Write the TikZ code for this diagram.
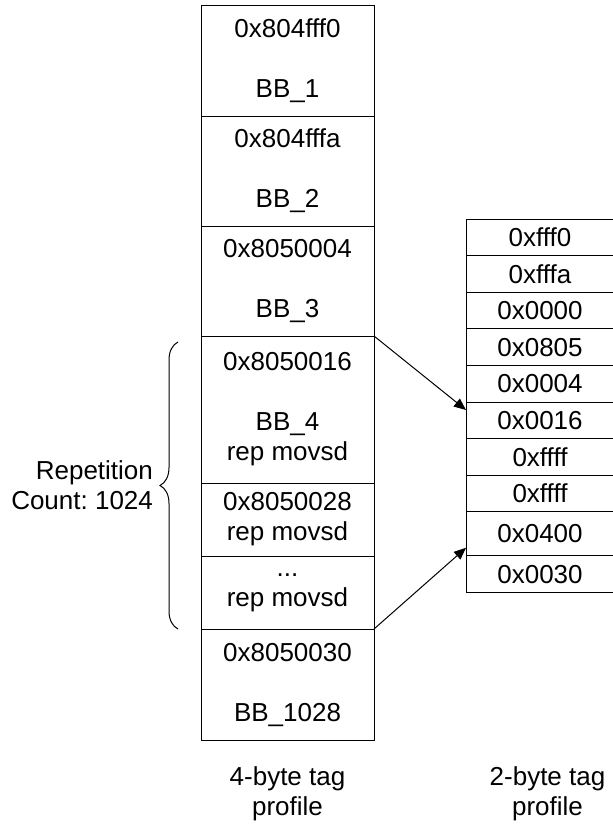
\documentclass[tikz,border=0pt]{standalone}
\usepackage{fontspec}
\setmainfont{Liberation Sans}
\usetikzlibrary{arrows.meta,positioning,decorations.pathreplacing}
\frenchspacing

\begin{document}
\begin{tikzpicture}[
        node distance=0pt,
        every node/.style={font=\fontsize{13}{15}\selectfont, align=center},
        blk/.style={rectangle, draw, line width=0.5pt, outer sep=0pt, minimum width=86.5pt},
        tag/.style={rectangle, draw, line width=0.5pt, outer sep=0pt, minimum width=74pt, minimum height=18.3pt, inner sep=0pt},
        arr/.style={-{Triangle[length=6pt, width=5pt]}, line width=0.5pt},
        brc/.style={decorate, decoration={brace, amplitude=9pt}, line width=0.5pt}
    ]
    \useasboundingbox (0,0) rectangle (306.5pt,-412.5pt);

    % 4-byte tag profile
    \node (b1) [blk, minimum height=55.5pt, anchor=north] at (143.75pt,-2.5pt) {0x804fff0\\[15pt]BB\_1};
    \node (b2) [blk, minimum height=55pt, below=of b1] {0x804fffa\\[15pt]BB\_2};
    \node (b3) [blk, minimum height=55pt, below=of b2] {0x8050004\\[15pt]BB\_3};
    \node (b4) [blk, minimum height=73.5pt, below=of b3] {0x8050016\\[15pt]BB\_4\\rep movsd};
    \node (b5) [blk, minimum height=36.5pt, below=of b4] {0x8050028\\rep movsd};
    \node (b6) [blk, minimum height=36.5pt, below=of b5] {...\\rep movsd};
    \node (b7) [blk, minimum height=55.5pt, below=of b6] {0x8050030\\[15pt]BB\_1028};

    % 2-byte tag profile
    \node (r1) [tag, anchor=north west] at (233pt,-109.5pt) {0xfff0};
    \node (r2) [tag, below=of r1] {0xfffa};
    \node (r3) [tag, below=of r2] {0x0000};
    \node (r4) [tag, below=of r3] {0x0805};
    \node (r5) [tag, below=of r4] {0x0004};
    \node (r6) [tag, below=of r5] {0x0016};
    \node (r7) [tag, below=of r6] {0xffff};
    \node (r8) [tag, below=of r7] {0xffff};
    \node (r9) [tag, minimum height=22pt, below=of r8] {0x0400};
    \node (r10) [tag, below=of r9] {0x0030};

    % Arrows
    \draw[arr] (b4.north east) -- ([yshift=-4pt]r6.north west);
    \draw[arr] (b6.south east) -- ([yshift=4pt]r9.south west);

    % Repetition brace
    \draw[brc] ([xshift=-11.5pt]b6.south west) -- ([xshift=-11.5pt,yshift=-3pt]b4.north west)
        coordinate[midway, xshift=-9pt] (tip);
    \node (rep) [left=0pt of tip, align=right] {Repetition\\Count: 1024};

    % Captions
    \node (l4) [below=10pt of b7] {4-byte tag\\profile};
    \node (l2) at ([xshift=130pt]l4.center) {2-byte tag\\profile};

\end{tikzpicture}
\end{document}
